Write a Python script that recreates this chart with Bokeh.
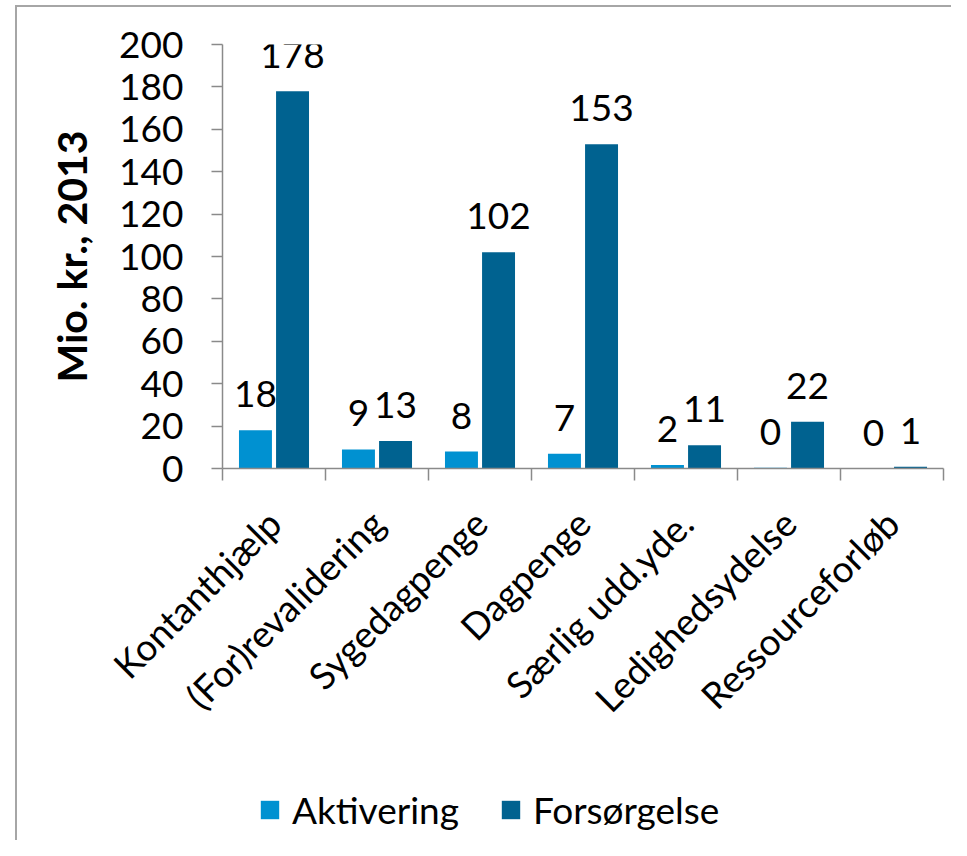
from bokeh.plotting import figure
from bokeh.models import (ColumnDataSource, Range1d, FixedTicker, InlineStyleSheet,
                          Legend, LegendItem)
from bokeh.layouts import column
from bokeh.core.properties import value
from bokeh.embed import file_html
from bokeh.resources import INLINE
import math

categories = ["Kontanthjælp", "(For)revalidering", "Sygedagpenge", "Dagpenge",
              "Særlig udd.yde.", "Ledighedsydelse", "Ressourceforløb"]
aktivering = [18, 9, 8, 7, 1.6, 0.4, 0.0]
forsorgelse = [178, 13, 102, 153, 11, 22, 0.8]
y_ticks = [0, 20, 40, 60, 80, 100, 120, 140, 160, 180, 200]
series_names = ["Aktivering", "Forsørgelse"]

FONT = "Lato"
C_AKT = "#0091D1"
C_FOR = "#006290"
AXIS_C = "#8a8a8a"
FS = "37px"

idx = list(range(len(categories)))
centers = [i + 0.5 for i in idx]
src_a = ColumnDataSource(dict(x=[c - 0.18 for c in centers], top=aktivering,
                              lab=[str(int(round(v))) for v in aktivering]))
src_f = ColumnDataSource(dict(x=[c + 0.18 for c in centers], top=forsorgelse,
                              lab=[str(int(round(v))) for v in forsorgelse]))

p = figure(width=951, height=770, output_backend="svg", toolbar_location=None,
           x_range=Range1d(0, len(categories)), y_range=Range1d(0, 200),
           min_border_left=222, min_border_right=8, min_border_top=44,
           min_border_bottom=302)
p.outline_line_color = None
p.xgrid.grid_line_color = None
p.ygrid.grid_line_color = None

p.vbar(x="x", top="top", width=0.32, source=src_a, fill_color=C_AKT, line_color=None)
p.vbar(x="x", top="top", width=0.32, source=src_f, fill_color=C_FOR, line_color=None)

for s in (src_a, src_f):
    p.text(x="x", y="top", text="lab", source=s, text_align="center",
           text_baseline="bottom", y_offset=-23, text_font=value(FONT),
           text_font_size=FS, text_color="black")

# y axis
ya = p.yaxis[0]
ya.ticker = FixedTicker(ticks=y_ticks)
ya.axis_line_color = AXIS_C
ya.axis_line_width = 1.5
ya.major_tick_line_color = AXIS_C
ya.major_tick_line_width = 1.5
ya.major_tick_out = 11
ya.major_tick_in = 0
ya.minor_tick_line_color = None
ya.major_label_text_font = FONT
ya.major_label_text_font_size = FS
ya.major_label_text_color = "black"
ya.major_label_standoff = 28
ya.axis_label = "Mio. kr., 2013"
ya.axis_label_text_font = FONT
ya.axis_label_text_font_style = "bold"
ya.axis_label_text_font_size = "41px"
ya.axis_label_text_color = "black"
ya.axis_label_standoff = 20

# x axis
xa = p.xaxis[0]
xa.ticker = FixedTicker(ticks=centers, minor_ticks=list(range(len(categories) + 1)))
xa.major_label_overrides = {c: name for c, name in zip(centers, categories)}
xa.axis_line_color = AXIS_C
xa.axis_line_width = 1.5
xa.major_tick_line_color = None
xa.major_tick_out = 0
xa.major_tick_in = 0
xa.minor_tick_line_color = AXIS_C
xa.minor_tick_line_width = 1.5
xa.minor_tick_out = 12
xa.minor_tick_in = 0
xa.major_label_orientation = math.pi / 4
xa.major_label_text_font = FONT
xa.major_label_text_font_size = FS
xa.major_label_text_color = "black"
xa.major_label_standoff = 36

# legend strip (separate figure below the chart so nothing is clipped);
# the two swatch renderers have zero size and only feed the legend
pl = figure(width=951, height=70, output_backend="svg", toolbar_location=None,
            x_range=Range1d(0, 1), y_range=Range1d(0, 1),
            x_axis_type=None, y_axis_type=None, min_border=0)
pl.outline_line_color = None
pl.xgrid.grid_line_color = None
pl.ygrid.grid_line_color = None
ra = pl.vbar(x=[0.5], top=[0], width=0, fill_color=C_AKT, line_color=None)
rf = pl.vbar(x=[0.5], top=[0], width=0, fill_color=C_FOR, line_color=None)
lg = Legend(items=[LegendItem(label=series_names[0], renderers=[ra]),
                   LegendItem(label=series_names[1], renderers=[rf])],
            orientation="horizontal", location=(36, 8),
            border_line_color=None, background_fill_alpha=0,
            padding=0, margin=0, spacing=40, glyph_width=23, glyph_height=23,
            label_standoff=11, label_text_font=FONT, label_text_font_size=FS,
            label_text_color="black")
pl.add_layout(lg, "center")

css = InlineStyleSheet(css=""":host::after { content: ""; position: absolute;
 left: 15px; top: 5px; right: 0px; bottom: 0px;
 border-left: 2px solid #a6a6a6; border-top: 2px solid #a6a6a6;
 pointer-events: none; }""")
layout = column(p, pl, spacing=0, stylesheets=[css])

open("out.html", "w").write(file_html(layout, INLINE))
